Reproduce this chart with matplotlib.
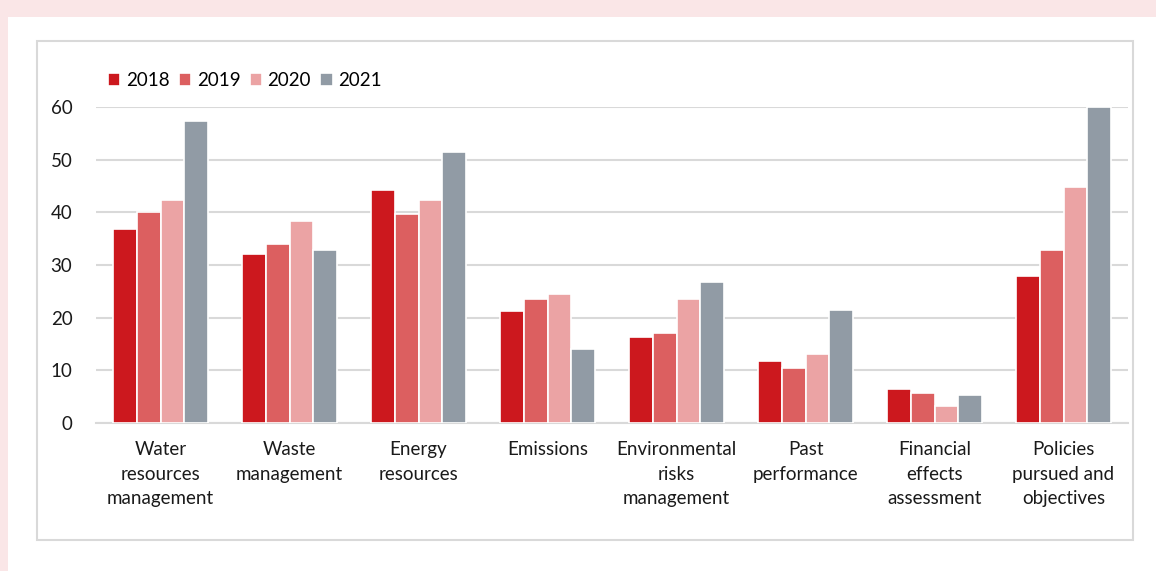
import numpy as np
import matplotlib.pyplot as plt
from matplotlib.patches import Rectangle

# data
categories = ['Water\nresources\nmanagement', 'Waste\nmanagement', 'Energy\nresources',
              'Emissions', 'Environmental\nrisks\nmanagement', 'Past\nperformance',
              'Financial\neffects\nassessment', 'Policies\npursued and\nobjectives']
years = ['2018', '2019', '2020', '2021']
v2018 = [36.9, 32.0, 44.2, 21.2, 16.3, 11.8, 6.4, 27.9]
v2019 = [40.0, 34.0, 39.7, 23.5, 17.1, 10.4, 5.7, 32.8]
v2020 = [42.4, 38.3, 42.3, 24.4, 23.5, 13.1, 3.2, 44.9]
v2021 = [57.4, 32.8, 51.4, 14.0, 26.8, 21.5, 5.4, 60.0]
colors = ['#CC181E', '#DC5F60', '#EBA3A4', '#919BA5']

W, H = 1156, 571
plt.rcParams['font.family'] = ['Lato', 'DejaVu Sans']
fig = plt.figure(figsize=(W / 100, H / 100), dpi=100)
fig.patch.set_facecolor('#FAE6E7')

# white panel and gray frame
fig.patches.append(Rectangle((8 / W, 0), 1, 1 - 17 / H, transform=fig.transFigure,
                             facecolor='white', edgecolor='none', zorder=-2))
fig.patches.append(Rectangle((37 / W, 1 - 540 / H), (1133 - 37) / W, (540 - 41) / H,
                             transform=fig.transFigure, facecolor='none',
                             edgecolor='#D9D9D9', linewidth=1.5, zorder=-1))

ax = fig.add_axes([96 / W, 1 - 423 / H, (1128 - 96) / W, (423 - 107) / H])
ax.set_facecolor('none')
ax.set_zorder(1)

x = np.arange(len(categories))
step = 0.183
for i, (vals, yr) in enumerate(zip([v2018, v2019, v2020, v2021], years)):
    ax.bar(x + (i - 1.5) * step, vals, width=step, color=colors[i],
           edgecolor='white', linewidth=1.2, label=yr, zorder=3)

ax.set_xlim(-0.5, len(categories) - 0.5)
ax.set_ylim(0, 60)
ax.set_yticks(range(0, 61, 10))
ax.yaxis.grid(True, color='#D9D9D9', linewidth=1.5, zorder=0)
ax.set_axisbelow(True)
for s in ['top', 'right', 'left']:
    ax.spines[s].set_visible(False)
ax.spines['bottom'].set_color('#D9D9D9')
ax.spines['bottom'].set_linewidth(1.5)
ax.tick_params(axis='both', length=0, labelsize=13.5, colors='#1a1a1a')
ax.tick_params(axis='y', pad=17)
ax.tick_params(axis='x', pad=13)
ax.set_xticks(x)
ax.set_xticklabels(categories, linespacing=1.55)

ax.legend(loc='upper left', bbox_to_anchor=(108 / W, 1 - 72 / H),
          bbox_transform=fig.transFigure, ncol=4, frameon=False, fontsize=13.5,
          handlelength=0.65, handleheight=0.65, handletextpad=0.3,
          columnspacing=0.5, borderaxespad=0, borderpad=0)

fig.savefig('out.png', dpi=100, facecolor=fig.get_facecolor())
